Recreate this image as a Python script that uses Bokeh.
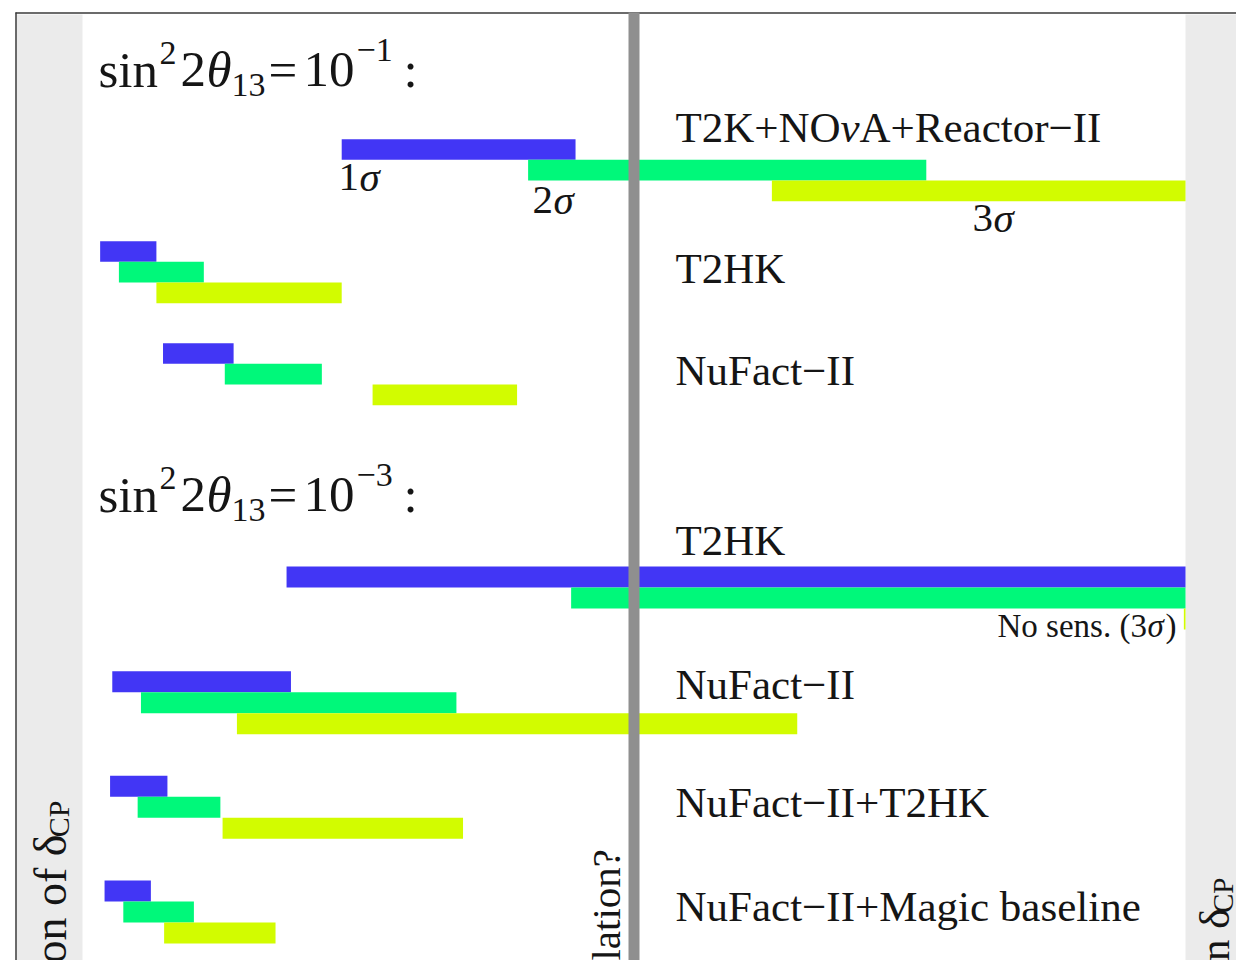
import numpy as np
from bokeh.plotting import figure
from bokeh.models import Range1d
from bokeh.core.properties import value
from bokeh.embed import file_html
from bokeh.resources import INLINE

# ---------------- data (fraction of delta_CP axis, 0..1) ----------------
top_labels = ["T2K+NOνA+Reactor−II", "T2HK", "NuFact−II"]
top_1s_lo = [0.235, 0.016, 0.073]
top_1s_hi = [0.447, 0.067, 0.137]
top_2s_lo = [0.404, 0.033, 0.129]
top_2s_hi = [0.765, 0.110, 0.217]
top_3s_lo = [0.625, 0.067, 0.263]
top_3s_hi = [1.000, 0.235, 0.394]

bot_labels = ["T2HK", "NuFact−II", "NuFact−II+T2HK", "NuFact−II+Magic baseline"]
bot_1s_lo = [0.185, 0.027, 0.025, 0.020]
bot_1s_hi = [1.000, 0.189, 0.077, 0.062]
bot_2s_lo = [0.443, 0.053, 0.050, 0.037]
bot_2s_hi = [1.000, 0.339, 0.125, 0.101]
bot_3s_lo = [0.9985, 0.140, 0.127, 0.074]
bot_3s_hi = [1.000, 0.648, 0.345, 0.175]

sigma_names = ["1", "2", "3"]
colors = ["#4236f5", "#00f87a", "#d2fc00"]

# ---------------- layout ----------------
W, H = 1236, 960
X0, SCALE = 82.0, 1103.0
FONT = "Liberation Serif"
K = 0.37  # baseline correction (em)


def fx(px):
    return (px - X0) / SCALE


p = figure(width=W, height=H, x_range=Range1d(fx(0), fx(W)),
           y_range=Range1d(H, 0), output_backend="svg",
           toolbar_location=None, min_border=0)
p.axis.visible = False
p.grid.visible = False
p.outline_line_color = None
p.background_fill_color = "white"
p.border_fill_color = "white"

# grey side bands
p.quad(left=[fx(16), 1.0], right=[0.0, fx(1300)], top=[14, 14], bottom=[1000, 1000],
       fill_color="#ebebeb", line_color=None)

# frame lines
p.segment(x0=[fx(15)], y0=[12.5], x1=[fx(1300)], y1=[12.5], line_color="#3a3a3a", line_width=1.5)
p.segment(x0=[fx(15.5)], y0=[12], x1=[fx(15.5)], y1=[1000], line_color="#3a3a3a", line_width=1.5)


def draw_group(c0, step, h, lo_hi):
    for k, (lo, hi) in enumerate(lo_hi):
        n = len(lo)
        yc = np.array([c0 + step * i + h * k for i in range(n)])
        p.quad(left=lo, right=hi, top=yc - h / 2, bottom=yc + h / 2,
               fill_color=colors[k], line_color=None)


draw_group(149.0, 102.0, 20.7, [(top_1s_lo, top_1s_hi), (top_2s_lo, top_2s_hi), (top_3s_lo, top_3s_hi)])
draw_group(576.5, 104.67, 21.0, [(bot_1s_lo, bot_1s_hi), (bot_2s_lo, bot_2s_hi), (bot_3s_lo, bot_3s_hi)])

# central vertical line
p.segment(x0=[0.5], y0=[12], x1=[0.5], y1=[1000], line_color="#8f8f8f", line_width=11)


def txt(px, y, s, size, style="normal", angle=0.0, align="left", color="#151515"):
    if angle == 0.0:
        y = y - K * size
    else:
        px = px - K * size
    p.text(x=[fx(px)], y=[y], text=[s], text_font=value(FONT),
           text_font_size=value(f"{size}px"), text_font_style=style,
           angle=angle, text_align=align, text_baseline="alphabetic",
           text_color=color)


def title(base, expo):
    txt(98, base, "sin", 51)
    txt(159, base - 23, "2", 34)
    txt(180, base, "2", 51)
    txt(206, base, "θ", 51, "italic")
    txt(231, base + 9, "13", 34)
    txt(268, base, "=", 51)
    txt(303, base, "10", 51)
    txt(356, base - 26, expo, 34)
    txt(403, base, ":", 51)


title(88, "−1")
title(513, "−3")

# experiment labels
txt(675, 143, "T2K+NO", 43)
txt(840, 143, "ν", 43, "italic")
txt(859, 143, "A+Reactor−II", 43)
for lab, base in zip(top_labels[1:], [284, 386]):
    txt(675, base, lab, 43)
for lab, base in zip(bot_labels, [556, 700, 818, 922]):
    txt(675, base, lab, 43)

# sigma labels
for s, (px, base) in zip(sigma_names, [(338, 192), (532, 215), (972, 233)]):
    txt(px, base, s, 41)
    txt(px + 21, base, "σ", 41, "italic")

txt(997, 638, "No sens. (3", 33)
txt(1147, 638, "σ", 33, "italic")
txt(1165, 638, ")", 33)

# rotated texts (clipped at bottom, as in the original)
A = np.pi / 2
txt(67, 834, "Precision of δ", 46, angle=A, align="right")
txt(69, 800, "CP", 30, angle=A, align="right")
txt(621, 847, "CP violation?", 41, angle=A, align="right")
txt(1230, 908, "Precision on δ", 43, angle=A, align="right")
txt(1233, 877, "CP", 29, angle=A, align="right")

open("out.html", "w").write(file_html(p, INLINE))
